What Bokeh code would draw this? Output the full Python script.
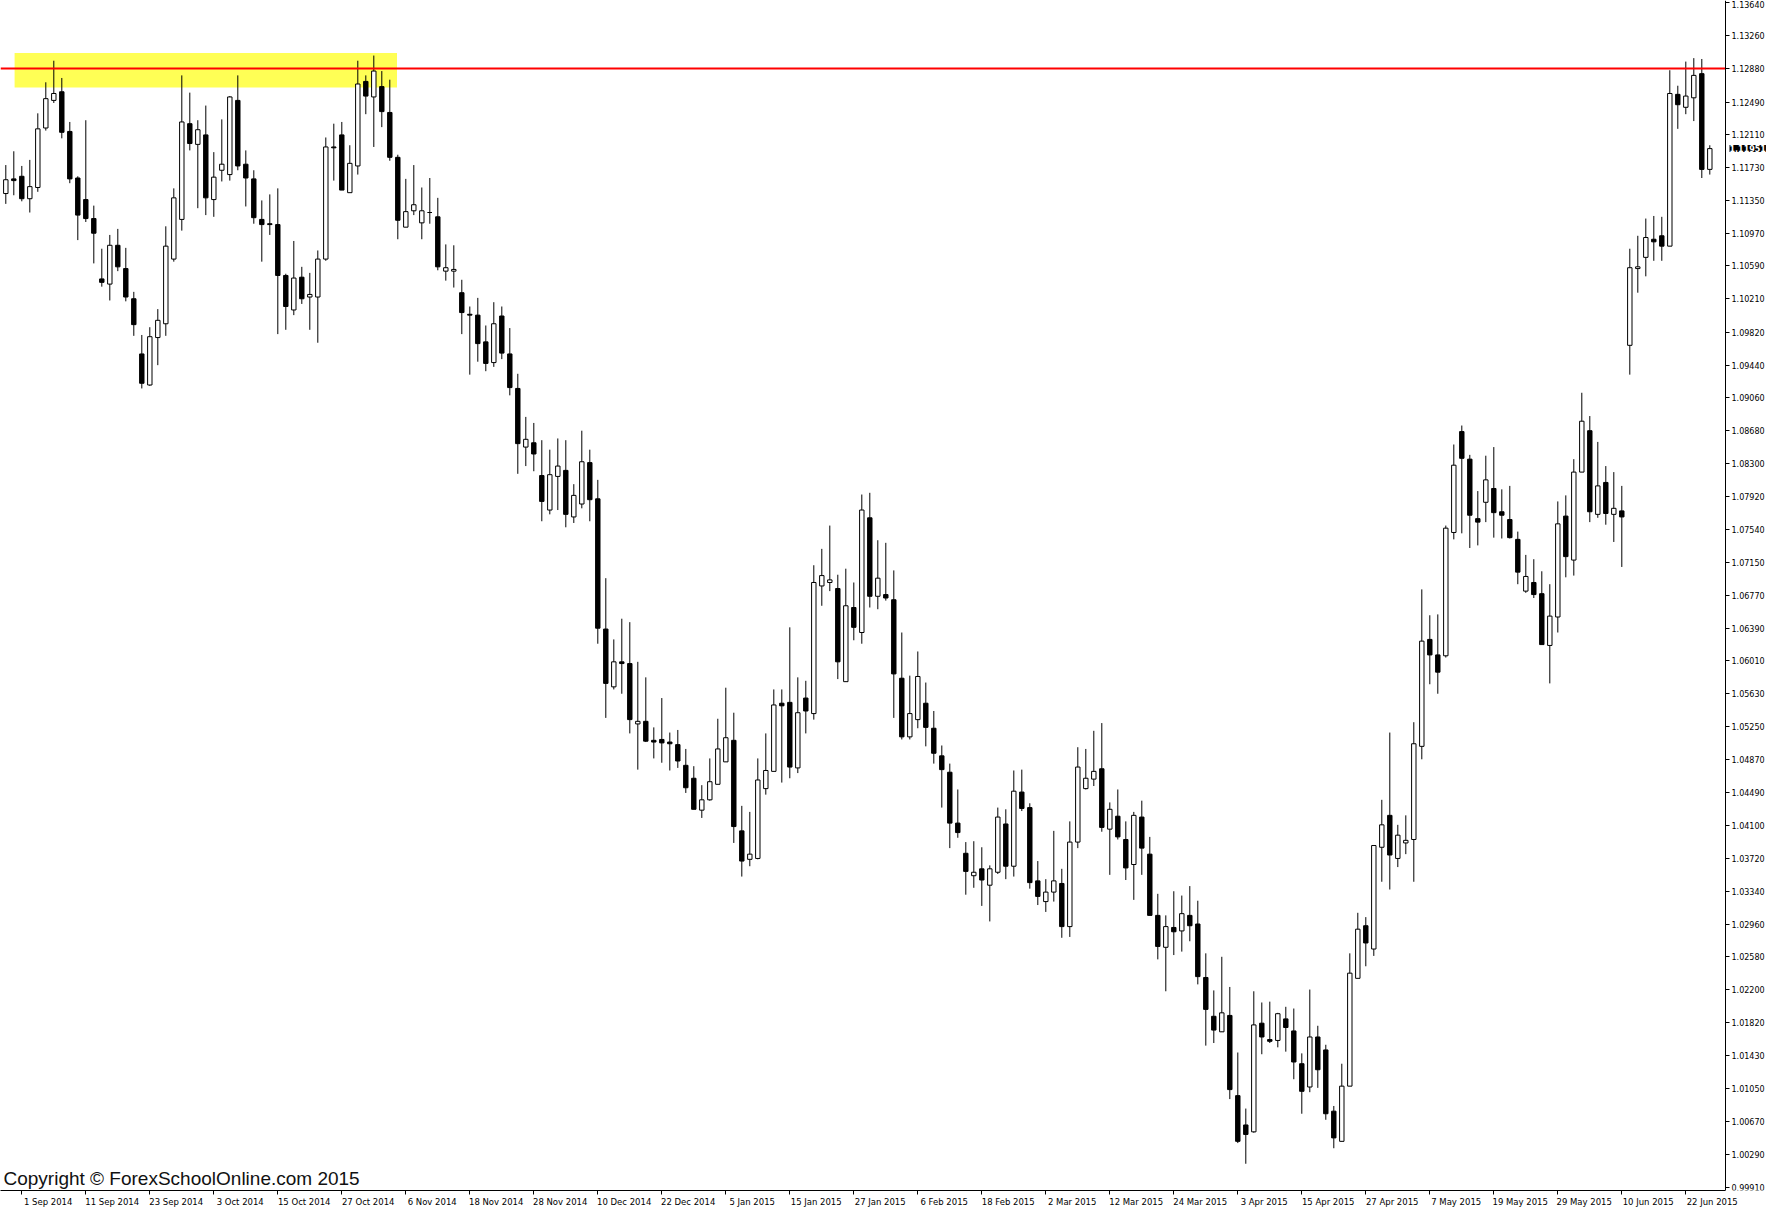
from bokeh.plotting import figure
from bokeh.models import (FixedTicker, LinearAxis, Range1d, BoxAnnotation, Label,
                          CustomJSTickFormatter, PrintfTickFormatter, ColumnDataSource)
from bokeh.embed import file_html
from bokeh.resources import INLINE

# ---- daily candles (28 Aug 2014 .. 25 Jun 2015) ----
opens = [1.1143, 1.1160, 1.1163, 1.1137, 1.1150, 1.1219, 1.1251, 1.1261, 1.1215, 1.1161,
         1.1136, 1.1114, 1.1044, 1.1038, 1.1083, 1.1056, 1.1021, 1.0957, 1.0921, 1.0976,
         1.0992, 1.1067, 1.1113, 1.1224, 1.1200, 1.1211, 1.1136, 1.1170, 1.1165, 1.1251,
         1.1177, 1.1160, 1.1113, 1.1108, 1.1107, 1.1048, 1.1008, 1.1046, 1.1023, 1.1023,
         1.1067, 1.1197, 1.1211, 1.1144, 1.1175, 1.1273, 1.1255, 1.1267, 1.1237, 1.1185,
         1.1104, 1.1123, 1.1109, 1.1121, 1.1116, 1.1053, 1.1053, 1.1028, 1.1003, 1.1002,
         1.0971, 1.0947, 1.1001, 1.0957, 1.0917, 1.0849, 1.0854, 1.0816, 1.0776, 1.0815,
         1.0822, 1.0768, 1.0783, 1.0831, 1.0789, 1.0638, 1.0571, 1.0600, 1.0598, 1.0528,
         1.0531, 1.0509, 1.0510, 1.0507, 1.0504, 1.0480, 1.0465, 1.0428, 1.0440, 1.0458,
         1.0484, 1.0509, 1.0404, 1.0371, 1.0372, 1.0453, 1.0473, 1.0552, 1.0553, 1.0477,
         1.0558, 1.0540, 1.0688, 1.0692, 1.0685, 1.0577, 1.0663, 1.0634, 1.0767, 1.0676,
         1.0678, 1.0672, 1.0581, 1.0513, 1.0533, 1.0552, 1.0523, 1.0491, 1.0472, 1.0413,
         1.0378, 1.0352, 1.0360, 1.0341, 1.0356, 1.0412, 1.0363, 1.0449, 1.0431, 1.0346,
         1.0322, 1.0333, 1.0343, 1.0293, 1.0391, 1.0453, 1.0464, 1.0476, 1.0406, 1.0421,
         1.0394, 1.0365, 1.0420, 1.0377, 1.0306, 1.0269, 1.0292, 1.0288, 1.0306, 1.0296,
         1.0234, 1.0189, 1.0171, 1.0190, 1.0097, 1.0063, 1.0055, 1.0181, 1.0162, 1.0161,
         1.0186, 1.0172, 1.0134, 1.0107, 1.0165, 1.0150, 1.0079, 1.0044, 1.0108, 1.0233,
         1.0294, 1.0267, 1.0385, 1.0422, 1.0372, 1.0390, 1.0394, 1.0502, 1.0626, 1.0608,
         1.0607, 1.0750, 1.0867, 1.0835, 1.0766, 1.0785, 1.0801, 1.0774, 1.0765, 1.0742,
         1.0682, 1.0692, 1.0679, 1.0619, 1.0652, 1.0769, 1.0718, 1.0820, 1.0868, 1.0771,
         1.0808, 1.0771, 1.0775, 1.0967, 1.1056, 1.1069, 1.1090, 1.1094, 1.1082, 1.1258,
         1.1243, 1.1254, 1.1282, 1.1171]
highs = [1.1176, 1.1192, 1.1175, 1.1182, 1.1236, 1.1272, 1.1297, 1.1277, 1.1226, 1.1163,
         1.1228, 1.1129, 1.1079, 1.1095, 1.1102, 1.1080, 1.1029, 1.0979, 1.0988, 1.1009,
         1.1105, 1.1149, 1.1280, 1.1260, 1.1228, 1.1245, 1.1191, 1.1229, 1.1256, 1.1280,
         1.1193, 1.1170, 1.1135, 1.1142, 1.1149, 1.1050, 1.1088, 1.1058, 1.1051, 1.1077,
         1.1208, 1.1224, 1.1226, 1.1199, 1.1297, 1.1280, 1.1303, 1.1285, 1.1275, 1.1188,
         1.1160, 1.1176, 1.1150, 1.1161, 1.1138, 1.1084, 1.1083, 1.1043, 1.1012, 1.1022,
         1.0990, 1.1017, 1.1012, 1.0987, 1.0934, 1.0884, 1.0877, 1.0857, 1.0846, 1.0859,
         1.0857, 1.0806, 1.0868, 1.0846, 1.0811, 1.0697, 1.0626, 1.0650, 1.0646, 1.0600,
         1.0582, 1.0524, 1.0558, 1.0518, 1.0521, 1.0499, 1.0479, 1.0457, 1.0488, 1.0534,
         1.0570, 1.0541, 1.0433, 1.0426, 1.0488, 1.0517, 1.0568, 1.0568, 1.0640, 1.0582,
         1.0578, 1.0712, 1.0731, 1.0758, 1.0701, 1.0708, 1.0692, 1.0794, 1.0796, 1.0741,
         1.0738, 1.0706, 1.0634, 1.0584, 1.0612, 1.0576, 1.0543, 1.0503, 1.0482, 1.0452,
         1.0391, 1.0392, 1.0385, 1.0364, 1.0431, 1.0429, 1.0474, 1.0475, 1.0436, 1.0369,
         1.0348, 1.0404, 1.0360, 1.0415, 1.0501, 1.0499, 1.0520, 1.0529, 1.0437, 1.0452,
         1.0415, 1.0426, 1.0439, 1.0397, 1.0331, 1.0306, 1.0334, 1.0329, 1.0340, 1.0323,
         1.0262, 1.0219, 1.0258, 1.0223, 1.0147, 1.0082, 1.0218, 1.0205, 1.0206, 1.0193,
         1.0200, 1.0198, 1.0146, 1.0220, 1.0178, 1.0156, 1.0085, 1.0134, 1.0262, 1.0309,
         1.0304, 1.0387, 1.0440, 1.0518, 1.0411, 1.0422, 1.0530, 1.0684, 1.0654, 1.0655,
         1.0758, 1.0852, 1.0874, 1.0840, 1.0798, 1.0839, 1.0849, 1.0800, 1.0804, 1.0751,
         1.0724, 1.0719, 1.0705, 1.0690, 1.0786, 1.0793, 1.0835, 1.0912, 1.0885, 1.0855,
         1.0827, 1.0820, 1.0804, 1.1079, 1.1094, 1.1114, 1.1117, 1.1116, 1.1286, 1.1268,
         1.1296, 1.1300, 1.1299, 1.1199]
lows = [1.1131, 1.1141, 1.1134, 1.1121, 1.1145, 1.1216, 1.1248, 1.1207, 1.1155, 1.1089,
        1.1110, 1.1062, 1.1035, 1.1019, 1.1053, 1.1018, 1.0978, 1.0917, 1.0920, 1.0944,
        1.0978, 1.1064, 1.1100, 1.1193, 1.1126, 1.1118, 1.1116, 1.1157, 1.1158, 1.1170,
        1.1128, 1.1108, 1.1064, 1.1095, 1.0980, 1.0985, 1.1002, 1.1015, 1.0985, 1.0970,
        1.1065, 1.1158, 1.1147, 1.1144, 1.1165, 1.1235, 1.1197, 1.1220, 1.1181, 1.1090,
        1.1104, 1.1118, 1.1090, 1.1108, 1.1054, 1.1042, 1.1034, 1.0980, 1.0933, 1.0948,
        1.0937, 1.0942, 1.0951, 1.0909, 1.0818, 1.0827, 1.0821, 1.0763, 1.0771, 1.0776,
        1.0756, 1.0761, 1.0778, 1.0763, 1.0621, 1.0535, 1.0568, 1.0563, 1.0517, 1.0475,
        1.0507, 1.0488, 1.0483, 1.0474, 1.0477, 1.0448, 1.0429, 1.0419, 1.0439, 1.0458,
        1.0484, 1.0390, 1.0351, 1.0363, 1.0371, 1.0446, 1.0473, 1.0460, 1.0465, 1.0471,
        1.0517, 1.0533, 1.0665, 1.0682, 1.0580, 1.0577, 1.0625, 1.0621, 1.0663, 1.0661,
        1.0671, 1.0535, 1.0510, 1.0510, 1.0523, 1.0502, 1.0482, 1.0431, 1.0384, 1.0396,
        1.0330, 1.0338, 1.0317, 1.0299, 1.0354, 1.0348, 1.0351, 1.0427, 1.0337, 1.0318,
        1.0310, 1.0322, 1.0280, 1.0281, 1.0384, 1.0452, 1.0456, 1.0403, 1.0353, 1.0394,
        1.0347, 1.0324, 1.0353, 1.0306, 1.0255, 1.0218, 1.0260, 1.0264, 1.0276, 1.0226,
        1.0155, 1.0158, 1.0171, 1.0093, 1.0042, 1.0018, 1.0054, 1.0145, 1.0158, 1.0153,
        1.0148, 1.0116, 1.0076, 1.0101, 1.0106, 1.0069, 1.0036, 1.0044, 1.0108, 1.0233,
        1.0247, 1.0259, 1.0345, 1.0336, 1.0362, 1.0377, 1.0345, 1.0487, 1.0574, 1.0563,
        1.0605, 1.0742, 1.0749, 1.0732, 1.0735, 1.0762, 1.0744, 1.0743, 1.0743, 1.0690,
        1.0680, 1.0674, 1.0620, 1.0575, 1.0634, 1.0698, 1.0700, 1.0820, 1.0762, 1.0767,
        1.0759, 1.0739, 1.0710, 1.0933, 1.1028, 1.1047, 1.1065, 1.1065, 1.1082, 1.1218,
        1.1235, 1.1227, 1.1161, 1.1165]
closes = [1.1159, 1.1158, 1.1137, 1.1151, 1.1218, 1.1253, 1.1259, 1.1214, 1.1160, 1.1118,
          1.1114, 1.1097, 1.1040, 1.1083, 1.1058, 1.1023, 1.0991, 1.0923, 1.0977, 1.0996,
          1.1082, 1.1138, 1.1226, 1.1201, 1.1217, 1.1138, 1.1162, 1.1177, 1.1255, 1.1175,
          1.1161, 1.1115, 1.1107, 1.1107, 1.1048, 1.1012, 1.1045, 1.1021, 1.1026, 1.1067,
          1.1197, 1.1196, 1.1147, 1.1178, 1.1270, 1.1256, 1.1285, 1.1238, 1.1185, 1.1112,
          1.1122, 1.1130, 1.1123, 1.1121, 1.1058, 1.1057, 1.1055, 1.1005, 1.1002, 1.0969,
          1.0946, 1.0992, 1.0958, 1.0918, 1.0853, 1.0858, 1.0841, 1.0786, 1.0817, 1.0827,
          1.0771, 1.0793, 1.0832, 1.0788, 1.0639, 1.0575, 1.0600, 1.0598, 1.0533, 1.0531,
          1.0508, 1.0507, 1.0506, 1.0505, 1.0485, 1.0454, 1.0429, 1.0440, 1.0461, 1.0499,
          1.0512, 1.0409, 1.0369, 1.0377, 1.0463, 1.0474, 1.0550, 1.0549, 1.0478, 1.0541,
          1.0543, 1.0692, 1.0700, 1.0695, 1.0600, 1.0665, 1.0640, 1.0776, 1.0676, 1.0697,
          1.0674, 1.0586, 1.0513, 1.0540, 1.0583, 1.0524, 1.0494, 1.0475, 1.0413, 1.0402,
          1.0357, 1.0356, 1.0347, 1.0360, 1.0420, 1.0363, 1.0450, 1.0430, 1.0344, 1.0328,
          1.0333, 1.0346, 1.0293, 1.0391, 1.0478, 1.0465, 1.0473, 1.0408, 1.0429, 1.0397,
          1.0361, 1.0422, 1.0384, 1.0306, 1.0270, 1.0293, 1.0287, 1.0308, 1.0294, 1.0235,
          1.0197, 1.0173, 1.0193, 1.0104, 1.0044, 1.0052, 1.0179, 1.0165, 1.0160, 1.0192,
          1.0176, 1.0136, 1.0102, 1.0165, 1.0127, 1.0076, 1.0048, 1.0108, 1.0239, 1.0290,
          1.0274, 1.0387, 1.0411, 1.0376, 1.0399, 1.0393, 1.0505, 1.0624, 1.0608, 1.0588,
          1.0755, 1.0828, 1.0836, 1.0770, 1.0762, 1.0811, 1.0773, 1.0770, 1.0744, 1.0704,
          1.0699, 1.0678, 1.0620, 1.0653, 1.0760, 1.0722, 1.0820, 1.0879, 1.0774, 1.0804,
          1.0772, 1.0778, 1.0768, 1.1057, 1.1058, 1.1092, 1.1087, 1.1082, 1.1259, 1.1246,
          1.1256, 1.1280, 1.1171, 1.11951]

date_labels = ["1 Sep 2014", "11 Sep 2014", "23 Sep 2014", "3 Oct 2014", "15 Oct 2014",
               "27 Oct 2014", "6 Nov 2014", "18 Nov 2014", "28 Nov 2014", "10 Dec 2014",
               "22 Dec 2014", "5 Jan 2015", "15 Jan 2015", "27 Jan 2015", "6 Feb 2015",
               "18 Feb 2015", "2 Mar 2015", "12 Mar 2015", "24 Mar 2015", "3 Apr 2015",
               "15 Apr 2015", "27 Apr 2015", "7 May 2015", "19 May 2015", "29 May 2015",
               "10 Jun 2015", "22 Jun 2015"]
first_label_bar = 2
bars_per_label = 8

price_ticks = [1.13640, 1.13260, 1.12880, 1.12490, 1.12110, 1.11730, 1.11350, 1.10970,
               1.10590, 1.10210, 1.09820, 1.09440, 1.09060, 1.08680, 1.08300, 1.07920,
               1.07540, 1.07150, 1.06770, 1.06390, 1.06010, 1.05630, 1.05250, 1.04870,
               1.04490, 1.04100, 1.03720, 1.03340, 1.02960, 1.02580, 1.02200, 1.01820,
               1.01430, 1.01050, 1.00670, 1.00290, 0.99910]

resistance_level = 1.1288
zone_top = 1.1306
zone_bottom = 1.1266
zone_first_bar = 1.1
zone_last_bar = 48.9
last_price = 1.11951
copyright_text = "Copyright \u00a9 ForexSchoolOnline.com 2015"

# ---- layout constants (pixels / view) ----
W, H = 1766, 1190          # plot frame
AXIS_PX = 1725             # x pixel of the price axis line
PX_PER_BAR = 8.0
LABEL_SHIFT_BARS = 3.3     # MT4 writes dates to the right of their tick
COPYRIGHT_BOTTOM_PX = 1188 # bottom of the copyright line, from the top

X0 = -0.6625
X1 = X0 + W / PX_PER_BAR
X_AXIS = X0 + AXIS_PX / PX_PER_BAR
Y1 = 1.136683
Y0 = 0.99870
PRICE_PER_PX = (Y1 - Y0) / H

# ---- derived ----
n = len(opens)
idx = list(range(n))
body_top = [max(o, c) for o, c in zip(opens, closes)]
body_bot = [min(o, c) for o, c in zip(opens, closes)]
fills = ["white" if c >= o else "black" for o, c in zip(opens, closes)]
src = ColumnDataSource(dict(x=idx, o=opens, h=highs, l=lows, c=closes,
                            bt=body_top, bb=body_bot, fill=fills))

p = figure(frame_width=W, frame_height=H, output_backend="svg", toolbar_location=None,
           x_range=Range1d(X0, X1), y_range=Range1d(Y0, Y1),
           x_axis_location=None, y_axis_location=None,
           min_border_left=0, min_border_top=0, min_border_right=0, min_border_bottom=0,
           background_fill_color="white", border_fill_color="white")
p.outline_line_color = None
p.xgrid.visible = False
p.ygrid.visible = False

FONT = "DejaVu Sans"

# yellow resistance zone (below candles)
p.add_layout(BoxAnnotation(left=zone_first_bar, right=zone_last_bar, top=zone_top, bottom=zone_bottom,
                           fill_color="#FFFF55", fill_alpha=1.0, line_color=None, level="underlay"))

# candles
p.segment(x0="x", y0="l", x1="x", y1="h", source=src, line_color="black", line_width=1)
p.vbar(x="x", width=0.55, top="bt", bottom="bb", source=src,
       fill_color="fill", line_color="black", line_width=1)

# red resistance line (up to the price axis)
p.segment(x0=[X0], y0=[resistance_level], x1=[X_AXIS], y1=[resistance_level],
          line_color="#FF0000", line_width=2)

# bottom date axis: tick marks ...
tick_pos = [first_label_bar + bars_per_label * k for k in range(len(date_labels))]
xticks = LinearAxis(ticker=FixedTicker(ticks=tick_pos), bounds=(X0, X_AXIS),
                    formatter=CustomJSTickFormatter(code="return '';"))
xticks.axis_line_color = "black"
xticks.major_tick_line_color = "black"
xticks.major_tick_out = 4
xticks.major_tick_in = 0
xticks.minor_tick_line_color = None
xticks.major_label_standoff = 0
xticks.major_label_text_font_size = "0px"
p.add_layout(xticks, "below")

# ... and date labels written just right of each tick
xlabels = LinearAxis(ticker=FixedTicker(ticks=[t + LABEL_SHIFT_BARS for t in tick_pos]),
                     formatter=CustomJSTickFormatter(
                         args=dict(labels=date_labels, f=first_label_bar + LABEL_SHIFT_BARS, s=bars_per_label),
                         code="return labels[Math.round((tick - f) / s)] || '';"))
xlabels.axis_line_color = None
xlabels.major_tick_line_color = None
xlabels.major_tick_out = 0
xlabels.major_tick_in = 0
xlabels.minor_tick_line_color = None
xlabels.major_label_standoff = 2
xlabels.major_label_text_font = FONT
xlabels.major_label_text_font_size = "8.5px"
xlabels.major_label_text_color = "black"
p.add_layout(xlabels, "below")

# right price axis, drawn at the chart's right edge
yaxis = LinearAxis(ticker=FixedTicker(ticks=price_ticks), formatter=PrintfTickFormatter(format="%.5f"),
                   fixed_location=X_AXIS)
yaxis.axis_line_color = "black"
yaxis.major_tick_line_color = "black"
yaxis.major_tick_out = 4
yaxis.major_tick_in = 0
yaxis.minor_tick_line_color = None
yaxis.major_label_standoff = 2
yaxis.major_label_text_font = FONT
yaxis.major_label_text_font_size = "8px"
yaxis.major_label_text_color = "black"
p.add_layout(yaxis, "right")

# current price box
p.add_layout(Label(x=X_AXIS, y=last_price, x_offset=4, text="%.5f" % last_price,
                   text_color="white", text_font=FONT, text_font_size="8px", text_font_style="bold",
                   text_baseline="middle", background_fill_color="black", level="overlay"))

# copyright
p.add_layout(Label(x=X0 + 3 / PX_PER_BAR, y=Y1 - COPYRIGHT_BOTTOM_PX * PRICE_PER_PX, text=copyright_text,
                   text_font="Liberation Sans", text_font_size="19px", text_color="#111111",
                   text_baseline="bottom"))

open("out.html", "w").write(file_html(p, INLINE))
